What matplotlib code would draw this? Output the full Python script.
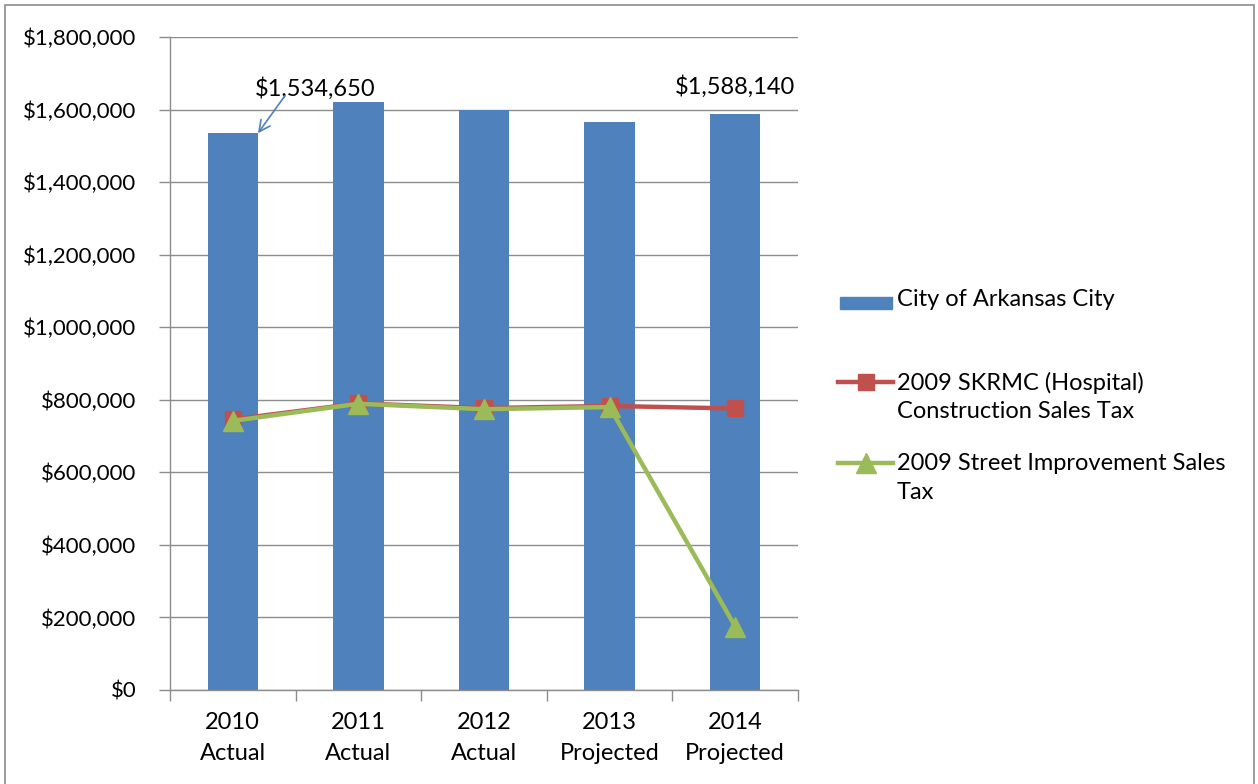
import matplotlib
matplotlib.use("Agg")
import matplotlib.pyplot as plt
from matplotlib.patches import Rectangle
from matplotlib.lines import Line2D
from matplotlib.ticker import FuncFormatter, MultipleLocator

categories = ["2010\nActual", "2011\nActual", "2012\nActual", "2013\nProjected", "2014\nProjected"]
city = [1534650, 1622000, 1599000, 1565000, 1588140]
skrmc = [746000, 790000, 777000, 783000, 776000]
street = [742000, 789000, 774000, 780000, 175000]
series_names = ["City of Arkansas City",
                "2009 SKRMC (Hospital)\nConstruction Sales Tax",
                "2009 Street Improvement Sales\nTax"]

BLUE = "#4F81BD"
RED = "#C0504D"
GREEN = "#9BBB59"
GRID = "#8C8C8C"
FS = 17

plt.rcParams['font.family'] = ['Lato', 'DejaVu Sans']
W, H = 1258, 784
fig = plt.figure(figsize=(W / 100, H / 100), dpi=100)

def fx(px):
    return px / W

def fy(py):
    return 1 - py / H

ax = fig.add_axes([fx(170), fy(690), fx(798) - fx(170), fy(37) - fy(690)])

x = list(range(len(categories)))
ax.bar(x, city, width=0.4, color=BLUE, zorder=2)
ax.plot(x, skrmc, color=RED, lw=3.2, marker="s", markersize=12, zorder=3)
ax.plot(x, street, color=GREEN, lw=3.2, marker="^", markersize=14, zorder=4)

ax.set_xlim(-0.5, len(categories) - 0.5)
ax.set_ylim(0, 1800000)
ax.yaxis.set_major_locator(MultipleLocator(200000))
ax.yaxis.set_major_formatter(FuncFormatter(lambda v, p: "${:,.0f}".format(v)))
ax.grid(axis="y", color=GRID, lw=1, zorder=0)
ax.set_axisbelow(True)

ax.set_xticks(x)
ax.set_xticklabels(categories, fontsize=FS, linespacing=1.6)
ax.tick_params(axis="x", length=0, pad=16)
ax.set_xticks([i - 0.5 for i in range(len(categories) + 1)], minor=True)
ax.tick_params(axis="x", which="minor", length=8, color=GRID, width=1)
ax.tick_params(axis="y", length=8, color=GRID, width=1, labelsize=16, pad=16)

for s in ["top", "right"]:
    ax.spines[s].set_visible(False)
for s in ["left", "bottom"]:
    ax.spines[s].set_color(GRID)
    ax.spines[s].set_linewidth(1)

# data labels
ax.text(0.654, 1659000, "${:,.0f}".format(city[0]), fontsize=FS, ha="center", va="center")
ax.annotate("", xy=(0.2, city[0]), xytext=(0.415, 1638000),
            arrowprops=dict(arrowstyle="->,head_length=0.8,head_width=0.4", color=BLUE,
                            lw=1.2, shrinkA=0, shrinkB=0))
ax.text(4, 1663000, "${:,.0f}".format(city[4]), fontsize=FS, ha="center", va="center")

# manual legend
fig.patches.append(Rectangle((fx(840), fy(309)), fx(892) - fx(840), fy(297) - fy(309),
                             transform=fig.transFigure, color=BLUE, figure=fig))
fig.text(fx(897), fy(300), series_names[0], fontsize=FS, va="center", ha="left")
l2 = Line2D([fx(838), fx(865.5), fx(893)], [fy(382)] * 3, transform=fig.transFigure,
            color=RED, lw=3.2, marker="s", markersize=12, markevery=[1], figure=fig)
fig.lines.append(l2)
fig.text(fx(897), fy(397), series_names[1], fontsize=FS, va="center", ha="left", linespacing=1.45)
l3 = Line2D([fx(838), fx(865.5), fx(893)], [fy(463)] * 3, transform=fig.transFigure,
            color=GREEN, lw=3.2, marker="^", markersize=14, markevery=[1], figure=fig)
fig.lines.append(l3)
fig.text(fx(897), fy(478), series_names[2], fontsize=FS, va="center", ha="left", linespacing=1.45)

# outer border
fig.patches.append(Rectangle((fx(5), -0.05), fx(1254) - fx(5), fy(5) + 0.05,
                             transform=fig.transFigure, fill=False, edgecolor=GRID,
                             lw=1.2, figure=fig))

fig.savefig("out.png", dpi=100)
